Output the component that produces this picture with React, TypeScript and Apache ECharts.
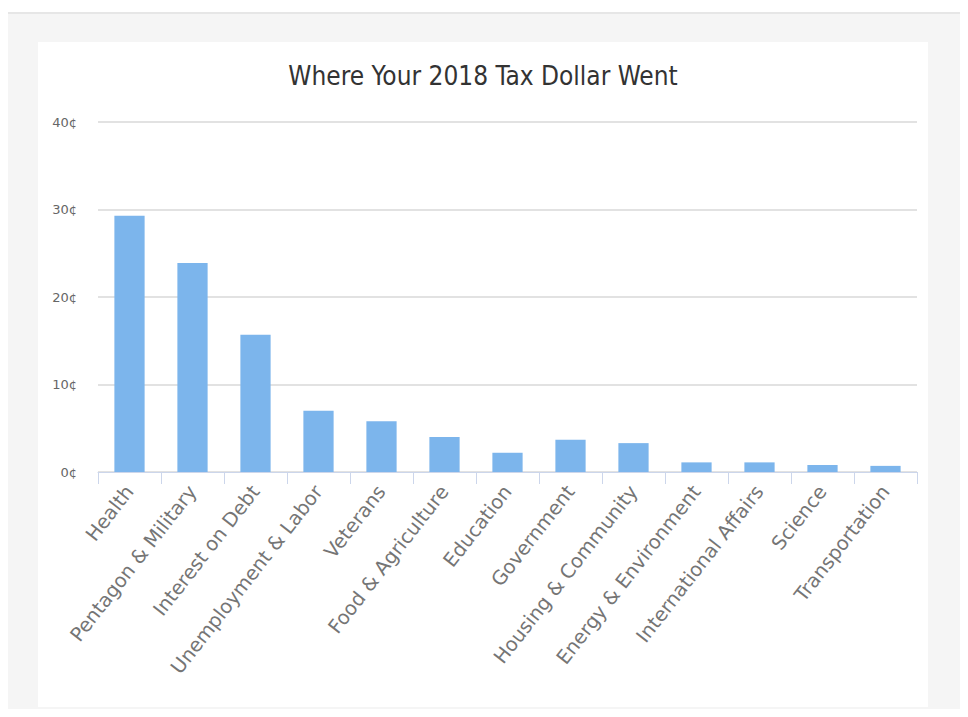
import React, { useEffect, useRef } from "react";
import * as echarts from "echarts";

const categories = [
  "Health",
  "Pentagon & Military",
  "Interest on Debt",
  "Unemployment & Labor",
  "Veterans",
  "Food & Agriculture",
  "Education",
  "Government",
  "Housing & Community",
  "Energy & Environment",
  "International Affairs",
  "Science",
  "Transportation",
];
const centsPerDollar = [29.3, 23.9, 15.7, 7.0, 5.8, 4.0, 2.2, 3.7, 3.3, 1.1, 1.1, 0.8, 0.7];
const yTicks = { min: 0, max: 40, interval: 10 };
const titleText = "Where Your 2018 Tax Dollar Went";

export default function App() {
  const ref = useRef<HTMLDivElement>(null);
  useEffect(() => {
    if (!ref.current) return;
    const chart = echarts.init(ref.current, null, { renderer: "svg" });
    chart.setOption({
      animation: false,
      backgroundColor: "#ffffff",
      title: {
        text: titleText,
        left: "center",
        top: 16,
        textStyle: {
          fontFamily: "'DejaVu Sans Condensed', 'Liberation Sans Narrow', 'Liberation Sans', sans-serif",
          fontSize: 26,
          fontWeight: "normal",
          color: "#333333",
        },
      },
      grid: { left: 60, right: 11, top: 80, bottom: 235, containLabel: false },
      xAxis: {
        type: "category",
        data: categories,
        axisLine: { lineStyle: { color: "#ccd6eb", width: 1 } },
        axisTick: { show: true, alignWithLabel: false, length: 12, lineStyle: { color: "#ccd6eb" } },
        axisLabel: {
          interval: 0,
          rotate: 52,
          margin: 16,
          fontFamily: "'DejaVu Sans', sans-serif",
          fontSize: 19.5,
          color: "#757575",
        },
      },
      yAxis: {
        type: "value",
        min: yTicks.min,
        max: yTicks.max,
        interval: yTicks.interval,
        axisLine: { show: false },
        axisTick: { show: false },
        splitLine: { lineStyle: { color: "#d8d8d8", width: 1.5 } },
        axisLabel: {
          formatter: "{value}¢",
          margin: 21,
          fontFamily: "'DejaVu Sans', sans-serif",
          fontSize: 13,
          color: "#666666",
        },
      },
      series: [
        {
          type: "bar",
          data: centsPerDollar,
          barWidth: "48%",
          itemStyle: { color: "#7cb5ec" },
        },
      ],
    });
    return () => chart.dispose();
  }, []);

  return (
    <div style={{ position: "relative", width: 952, height: 701, overflow: "hidden" }}>
      <div
        style={{
          position: "absolute",
          left: 0,
          top: 4,
          width: 952,
          height: 697,
          background: "#f5f5f5",
          borderTop: "2px solid #e6e6e6",
          boxSizing: "border-box",
        }}
      />
      <div
        ref={ref}
        style={{ position: "absolute", left: 30, top: 34, width: 890, height: 665 }}
      />
    </div>
  );
}
